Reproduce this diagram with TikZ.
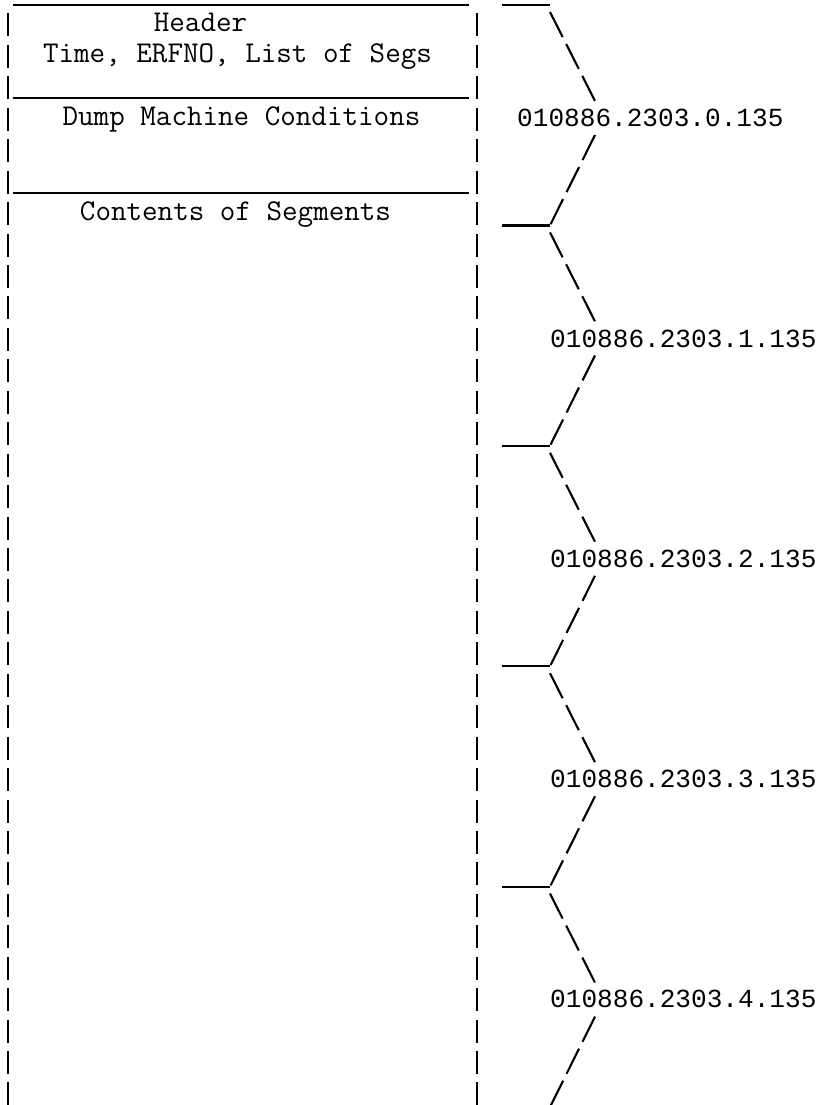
\documentclass[tikz,border=0pt]{standalone}
\usepackage{fontspec}
\newfontfamily\labfont{Liberation Mono}
\begin{document}
\begin{tikzpicture}[x=1pt,y=-1pt,
  vbar/.style={line width=2.7pt, dash pattern=on 23pt off 8.44pt},
  rulez/.style={line width=2.2pt},
  diag/.style={line width=2.1pt, dash pattern=on 28pt off 7.8pt},
  lefttxt/.style={font=\ttfamily\fontsize{30.2}{31}\selectfont, inner sep=0pt, anchor=base},
  seglab/.style={font=\labfont\fontsize{26.1}{28}\selectfont, inner sep=0pt, anchor=base west}]
\useasboundingbox (0,0) rectangle (819,1105);

% left box texts
\node[lefttxt] (header) at (200.5,32) {Header};
\node[lefttxt] (time) at (237.5,63) {Time, ERFNO, List of Segs};
\node[lefttxt] (dump) at (241.5,126) {Dump Machine Conditions};
\node[lefttxt] (contents) at (235.5,220) {Contents of Segments};

% vertical dashed bars
\coordinate (lt) at (8,13.5);
\coordinate (lb) at (8,1110);
\coordinate (rt) at (477,13.5);
\coordinate (rb) at (477,1110);
\draw[vbar] (lt) -- (lb);
\draw[vbar] (rt) -- (rb);

% horizontal rules of the left box
\coordinate (h0a) at (13,5);   \coordinate (h0b) at (469,5);
\coordinate (h1a) at (13,98);  \coordinate (h1b) at (469,98);
\coordinate (h2a) at (13,193); \coordinate (h2b) at (469,193);
\draw[rulez] (h0a) -- (h0b);
\draw[rulez] (h1a) -- (h1b);
\draw[rulez] (h2a) -- (h2b);

% segment labels and brackets
\node[seglab] (l0) at (517,127) {010886.2303.0.135};
\node[seglab] (l1) at (550,347.2) {010886.2303.1.135};
\node[seglab] (l2) at (550,567.4) {010886.2303.2.135};
\node[seglab] (l3) at (550,787.6) {010886.2303.3.135};
\node[seglab] (l4) at (550,1007.8) {010886.2303.4.135};

\foreach \i in {0,...,4}{
  \pgfmathsetmacro{\yh}{5+220.4*\i}
  \coordinate (s\i) at (502,\yh);
  \coordinate (c\i) at (550,\yh);
  \coordinate (d\i) at (550,\yh+7);
  \coordinate (e\i) at (595,\yh+96);
  \coordinate (f\i) at (595,\yh+130);
  \coordinate (g\i) at (550,\yh+220.4);
  \draw[rulez] (s\i) -- (c\i);
  \draw[diag] (d\i) -- (e\i);
  \draw[diag] (f\i) -- (g\i);
}
\end{tikzpicture}
\end{document}
